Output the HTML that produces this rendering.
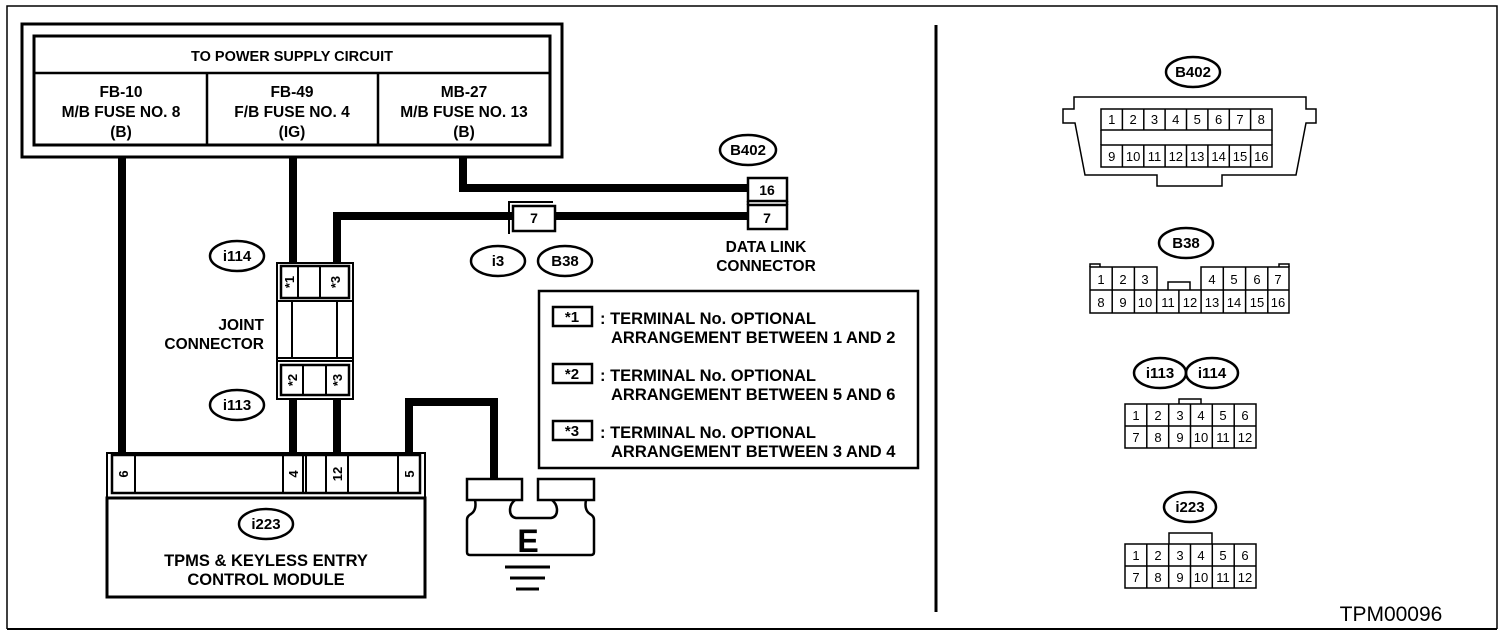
<!DOCTYPE html>
<html><head><meta charset="utf-8"><style>
html,body{margin:0;padding:0;background:#fff;}
svg{display:block;font-family:"Liberation Sans",Arial,sans-serif;font-size:13px;}
text{fill:#000;}
.b{font-weight:bold;}
</style></head><body>
<svg width="1504" height="638" viewBox="0 0 1504 638" xmlns="http://www.w3.org/2000/svg">
<g fill="none" stroke="#000">
<polyline points="7,629 7,6 1497,6 1497,629" stroke-width="1.5"/>
<line x1="7" y1="629" x2="1497" y2="629" stroke-width="2"/>
<line x1="936" y1="25" x2="936" y2="612" stroke-width="3"/>

<rect x="22" y="24" width="540" height="133" stroke-width="3"/>
<rect x="34" y="36" width="516" height="109" stroke-width="3"/>
<line x1="34" y1="73" x2="550" y2="73" stroke-width="2.5"/>
<line x1="207" y1="73" x2="207" y2="145" stroke-width="2.5"/>
<line x1="378" y1="73" x2="378" y2="145" stroke-width="2.5"/>

<g stroke-width="8">
<line x1="122" y1="157" x2="122" y2="455"/>
<line x1="293" y1="157" x2="293" y2="263"/>
<polyline points="463,157 463,188 748,188"/>
<polyline points="337,263 337,216 513,216"/>
<line x1="555" y1="216" x2="748" y2="216"/>
<line x1="293" y1="399" x2="293" y2="454"/>
<line x1="337" y1="399" x2="337" y2="454"/>
<polyline points="409,454 409,402 494,402 494,480"/>
</g>

<polyline points="509,234 509,202 553,202" stroke-width="2"/>
<rect x="513" y="206" width="42" height="25" stroke-width="2.5"/>

<rect x="748" y="178" width="39" height="23" stroke-width="2.5"/>
<rect x="748" y="205" width="39" height="24" stroke-width="2.5"/>
<line x1="748" y1="201" x2="748" y2="205" stroke-width="2.5"/>
<line x1="787" y1="201" x2="787" y2="205" stroke-width="2.5"/>

<rect x="277" y="263" width="76" height="38" stroke-width="2"/>
<rect x="281" y="266" width="68" height="32" stroke-width="2.5"/>
<line x1="298" y1="266" x2="298" y2="298" stroke-width="2"/>
<line x1="320" y1="266" x2="320" y2="298" stroke-width="2"/>
<line x1="277" y1="301" x2="277" y2="360" stroke-width="2"/>
<line x1="353" y1="301" x2="353" y2="360" stroke-width="2"/>
<line x1="292" y1="301" x2="292" y2="358" stroke-width="2"/>
<line x1="337" y1="301" x2="337" y2="358" stroke-width="2"/>
<line x1="277" y1="358" x2="353" y2="358" stroke-width="2"/>
<rect x="277" y="361" width="76" height="38" stroke-width="2"/>
<rect x="281" y="365" width="68" height="30" stroke-width="2.5"/>
<line x1="303" y1="365" x2="303" y2="395" stroke-width="2"/>
<line x1="326" y1="365" x2="326" y2="395" stroke-width="2"/>

<rect x="107" y="453" width="318" height="45" stroke-width="2"/>
<rect x="112" y="455" width="308" height="38" stroke-width="2.5"/>
<rect x="107" y="498" width="318" height="99" stroke-width="3"/>
<line x1="135" y1="455" x2="135" y2="493" stroke-width="2"/>
<line x1="283" y1="455" x2="283" y2="493" stroke-width="2"/>
<line x1="303" y1="455" x2="303" y2="493" stroke-width="2"/>
<line x1="306" y1="455" x2="306" y2="493" stroke-width="2"/>
<line x1="326" y1="455" x2="326" y2="493" stroke-width="2"/>
<line x1="348" y1="455" x2="348" y2="493" stroke-width="2"/>
<line x1="398" y1="455" x2="398" y2="493" stroke-width="2"/>

<rect x="467" y="479" width="55" height="21" stroke-width="2.5"/>
<rect x="538" y="479" width="56" height="21" stroke-width="2.5"/>
<path d="M475,500 q2,10 -4,14 q-4,2 -4,6 v32 q0,3 3,3 h121 q3,0 3,-3 v-32 q0,-4 -4,-6 q-6,-4 -4,-14 M515,500 q-5,4 -5,10 q0,7 6,8 h35 q6,-1 6,-8 q0,-6 -5,-10" stroke-width="2.5"/>
<line x1="505" y1="567" x2="550" y2="567" stroke-width="3"/>
<line x1="510" y1="578" x2="545" y2="578" stroke-width="3"/>
<line x1="516" y1="589" x2="539" y2="589" stroke-width="3"/>

<rect x="539" y="291" width="379" height="177" stroke-width="2.5"/>
<rect x="553" y="307" width="39" height="19" stroke-width="2.5"/>
<rect x="553" y="364" width="39" height="19" stroke-width="2.5"/>
<rect x="553" y="421" width="39" height="19" stroke-width="2.5"/>

<g stroke-width="2.5">
<ellipse cx="748" cy="150" rx="28" ry="15"/>
<ellipse cx="498" cy="261" rx="27" ry="15"/>
<ellipse cx="565" cy="261" rx="27" ry="15"/>
<ellipse cx="237" cy="256" rx="27" ry="15"/>
<ellipse cx="237" cy="405" rx="27" ry="15"/>
<ellipse cx="266" cy="524" rx="27" ry="15"/>
<ellipse cx="1193" cy="72" rx="27" ry="15"/>
<ellipse cx="1186" cy="243" rx="27" ry="15"/>
<ellipse cx="1160" cy="373" rx="26" ry="15"/>
<ellipse cx="1212" cy="373" rx="26" ry="15"/>
<ellipse cx="1190" cy="507" rx="26" ry="15"/>
</g>

<polygon points="1074,97 1306,97 1306,109 1316,109 1316,123 1306,123 1296,175 1222,175 1222,186 1157,186 1157,175 1085,175 1075,123 1063,123 1063,109 1074,109" stroke-width="1.5"/>
<g stroke-width="1.5">
<rect x="1101" y="109" width="171" height="21"/>
<rect x="1101" y="145" width="171" height="22"/>
<line x1="1101" y1="130" x2="1101" y2="145"/><line x1="1272" y1="130" x2="1272" y2="145"/>
<path d="M1122.4,109v21M1143.8,109v21M1165.1,109v21M1186.5,109v21M1207.9,109v21M1229.3,109v21M1250.6,109v21"/>
<path d="M1122.4,145v22M1143.8,145v22M1165.1,145v22M1186.5,145v22M1207.9,145v22M1229.3,145v22M1250.6,145v22"/>

<polyline points="1157,290 1157,267 1090,267 1090,313 1289,313 1289,267 1201,267 1201,290"/>
<line x1="1090" y1="290" x2="1289" y2="290"/>
<polyline points="1168,290 1168,282 1190,282 1190,290"/>
<path d="M1090,267v-3h10v3M1279,267v-3h10v3"/>
<path d="M1112.2,267v46M1134.4,267v46M1156.7,290v23M1178.9,290v23M1201.1,290v23M1223.3,267v46M1245.6,267v46M1267.8,267v46"/>

<rect x="1125" y="404" width="131" height="44"/>
<line x1="1125" y1="426" x2="1256" y2="426"/>
<path d="M1146.8,404v44M1168.7,404v44M1190.5,404v44M1212.3,404v44M1234.2,404v44"/>
<polyline points="1179,404 1179,399 1201,399 1201,404"/>

<rect x="1125" y="544" width="131" height="44"/>
<line x1="1125" y1="566" x2="1256" y2="566"/>
<path d="M1146.8,544v44M1168.7,544v44M1190.5,544v44M1212.3,544v44M1234.2,544v44"/>
<polyline points="1169,544 1169,533 1212,533 1212,544"/>
</g>
</g>

<g class="b" text-anchor="middle">
<text x="292" y="61" font-size="14.5">TO POWER SUPPLY CIRCUIT</text>
<g font-size="15.5">
<text x="121" y="97">FB-10</text><text x="121" y="117">M/B FUSE NO. 8</text><text x="121" y="137">(B)</text>
<text x="292" y="97">FB-49</text><text x="292" y="117">F/B FUSE NO. 4</text><text x="292" y="137">(IG)</text>
<text x="464" y="97">MB-27</text><text x="464" y="117">M/B FUSE NO. 13</text><text x="464" y="137">(B)</text>
</g>
<text x="534" y="223" font-size="14">7</text>
<text x="767" y="195" font-size="14">16</text>
<text x="767" y="223" font-size="14">7</text>
<text x="766" y="252" font-size="15.5">DATA LINK</text>
<text x="766" y="271" font-size="15.5">CONNECTOR</text>
<g font-size="15">
<text x="748" y="155">B402</text>
<text x="498" y="266">i3</text>
<text x="565" y="266">B38</text>
<text x="237" y="261">i114</text>
<text x="237" y="410">i113</text>
<text x="266" y="529">i223</text>
<text x="1193" y="77">B402</text>
<text x="1186" y="248">B38</text>
<text x="1160" y="378">i113</text>
<text x="1212" y="378">i114</text>
<text x="1190" y="512">i223</text>
</g>
<text x="266" y="566" font-size="16.5">TPMS &amp; KEYLESS ENTRY</text>
<text x="266" y="585" font-size="16.5">CONTROL MODULE</text>
<text x="572" y="322" font-size="15">*1</text>
<text x="572" y="379" font-size="15">*2</text>
<text x="572" y="436" font-size="15">*3</text>
</g>
<g class="b" text-anchor="end" font-size="15.5">
<text x="264" y="330">JOINT</text>
<text x="264" y="349">CONNECTOR</text>
</g>
<text x="528" y="552" text-anchor="middle" font-size="32" font-weight="bold">E</text>
<g class="b" font-size="16.5">
<text x="600" y="324">: TERMINAL No. OPTIONAL</text>
<text x="611" y="343">ARRANGEMENT BETWEEN 1 AND 2</text>
<text x="600" y="381">: TERMINAL No. OPTIONAL</text>
<text x="611" y="400">ARRANGEMENT BETWEEN 5 AND 6</text>
<text x="600" y="438">: TERMINAL No. OPTIONAL</text>
<text x="611" y="457">ARRANGEMENT BETWEEN 3 AND 4</text>
</g>
<g class="b" text-anchor="middle" font-size="13">
<text transform="translate(294,282) rotate(-90)">*1</text>
<text transform="translate(340,282) rotate(-90)">*3</text>
<text transform="translate(297,380) rotate(-90)">*2</text>
<text transform="translate(342,380) rotate(-90)">*3</text>
<text transform="translate(128,474) rotate(-90)">6</text>
<text transform="translate(298,474) rotate(-90)">4</text>
<text transform="translate(342,474) rotate(-90)">12</text>
<text transform="translate(414,474) rotate(-90)">5</text>
</g>
<g text-anchor="middle" font-size="13">
<text x="1111.7" y="124">1</text><text x="1133.1" y="124">2</text><text x="1154.5" y="124">3</text><text x="1175.8" y="124">4</text><text x="1197.2" y="124">5</text><text x="1218.6" y="124">6</text><text x="1240" y="124">7</text><text x="1261.3" y="124">8</text>
<text x="1111.7" y="161">9</text><text x="1133.1" y="161">10</text><text x="1154.5" y="161">11</text><text x="1175.8" y="161">12</text><text x="1197.2" y="161">13</text><text x="1218.6" y="161">14</text><text x="1240" y="161">15</text><text x="1261.3" y="161">16</text>
<text x="1101" y="284">1</text><text x="1123" y="284">2</text><text x="1145" y="284">3</text><text x="1212" y="284">4</text><text x="1234" y="284">5</text><text x="1257" y="284">6</text><text x="1278" y="284">7</text>
<text x="1101" y="307">8</text><text x="1123" y="307">9</text><text x="1145" y="307">10</text><text x="1168" y="307">11</text><text x="1190" y="307">12</text><text x="1212" y="307">13</text><text x="1234" y="307">14</text><text x="1257" y="307">15</text><text x="1278" y="307">16</text>
<text x="1136" y="420">1</text><text x="1158" y="420">2</text><text x="1180" y="420">3</text><text x="1201" y="420">4</text><text x="1223" y="420">5</text><text x="1245" y="420">6</text>
<text x="1136" y="442">7</text><text x="1158" y="442">8</text><text x="1180" y="442">9</text><text x="1201" y="442">10</text><text x="1223" y="442">11</text><text x="1245" y="442">12</text>
<text x="1136" y="560">1</text><text x="1158" y="560">2</text><text x="1180" y="560">3</text><text x="1201" y="560">4</text><text x="1223" y="560">5</text><text x="1245" y="560">6</text>
<text x="1136" y="582">7</text><text x="1158" y="582">8</text><text x="1180" y="582">9</text><text x="1201" y="582">10</text><text x="1223" y="582">11</text><text x="1245" y="582">12</text>
</g>
<text x="1391" y="621" text-anchor="middle" font-size="21">TPM00096</text>
</svg>
</body></html>
